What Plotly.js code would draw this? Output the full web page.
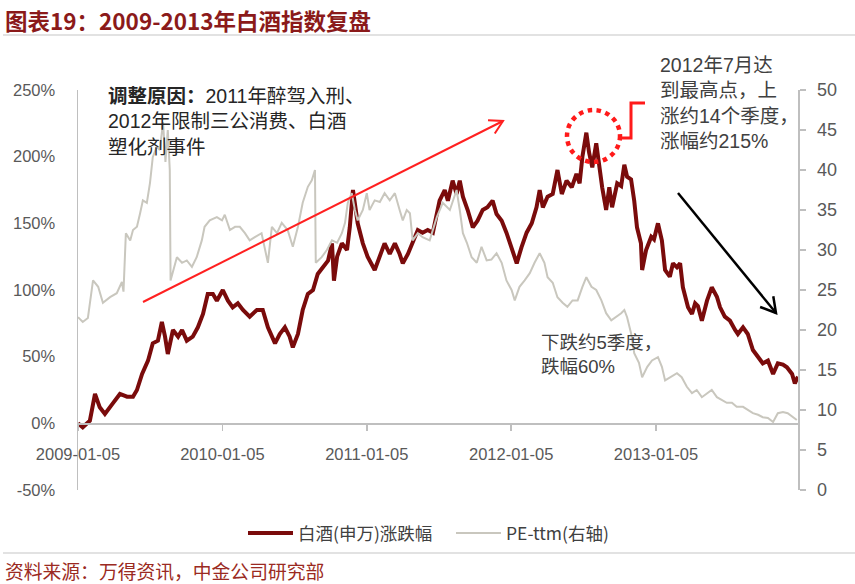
<!DOCTYPE html>
<html>
<head>
<meta charset="utf-8">
<script src="https://cdn.plot.ly/plotly-3.0.1.min.js"></script>
<style>
html,body{margin:0;padding:0;background:#fff;}
#chart{width:855px;height:584px;}
</style>
</head>
<body>
<div id="chart"></div>
<script>
// ---------------- data ----------------
const redDates = [
'2009-01-05','2009-01-17','2009-02-04','2009-02-17','2009-03-01','2009-03-14','2009-04-03','2009-04-21','2009-05-09','2009-05-24','2009-06-03','2009-06-16','2009-07-01','2009-07-13','2009-07-26','2009-08-05','2009-08-13','2009-08-20','2009-09-02','2009-09-15','2009-09-25','2009-10-07','2009-10-22','2009-11-04','2009-11-17','2009-11-29','2009-12-12','2009-12-22',
'2010-01-06','2010-01-19','2010-01-31','2010-02-13','2010-02-26','2010-03-15','2010-04-02','2010-04-17','2010-04-30','2010-05-18','2010-05-30','2010-06-12','2010-06-24','2010-07-02','2010-07-15','2010-07-27','2010-08-09','2010-08-22','2010-09-03','2010-09-16','2010-09-29','2010-10-09','2010-10-14','2010-10-22','2010-11-03','2010-11-16','2010-11-23','2010-12-01','2010-12-06','2010-12-13','2010-12-26',
'2011-01-07','2011-01-25','2011-02-07','2011-02-19','2011-03-04','2011-03-17','2011-03-29','2011-04-06','2011-04-19','2011-05-01','2011-05-14','2011-05-26','2011-06-08','2011-06-21','2011-07-01','2011-07-08','2011-07-21','2011-07-29','2011-08-10','2011-08-20','2011-08-28','2011-09-05','2011-09-17','2011-09-30','2011-10-12','2011-10-25','2011-11-06','2011-11-19','2011-11-29','2011-12-12','2011-12-24',
'2012-01-06','2012-01-19','2012-01-31','2012-02-13','2012-02-26','2012-03-09','2012-03-17','2012-03-25','2012-04-06','2012-04-19','2012-05-01','2012-05-12','2012-05-24','2012-06-06','2012-06-18','2012-06-26','2012-07-03','2012-07-13','2012-07-20','2012-07-28','2012-08-07','2012-08-15','2012-08-22','2012-09-01','2012-09-09','2012-09-16','2012-09-29','2012-10-09','2012-10-17','2012-10-24','2012-11-03','2012-11-11','2012-11-18','2012-11-28','2012-12-01','2012-12-11','2012-12-24','2012-12-31',
'2013-01-10','2013-01-20','2013-01-28','2013-02-09','2013-02-17','2013-02-27','2013-03-07','2013-03-14','2013-03-27','2013-04-06','2013-04-14','2013-04-21','2013-05-01','2013-05-14','2013-05-26','2013-06-08','2013-06-16','2013-06-28','2013-07-11','2013-07-24','2013-07-31','2013-08-13','2013-08-25','2013-09-07','2013-09-20','2013-10-02','2013-10-15','2013-10-28','2013-11-09','2013-11-22','2013-12-02','2013-12-15','2013-12-22','2013-12-30'
];
const redValues = [
0,-3,2,22,12,7,15,22,20,20,25,37,47,60,62,76,65,52,70,65,70,62,65,72,82,97,97,92,
100,92,87,90,85,80,85,85,72,60,67,72,65,57,67,85,97,100,112,117,122,135,107,125,135,130,147,175,165,150,135,
125,115,125,135,127,135,127,120,127,135,145,143,145,143,157,167,175,167,182,172,182,170,160,147,152,160,162,167,157,152,143,
132,120,132,143,150,162,175,162,170,172,190,172,182,177,187,180,200,218,203,192,210,192,177,160,177,162,180,178,194,185,183,167,147,135,115,130,140,138,
150,137,115,110,120,117,120,102,87,82,90,88,77,92,102,95,87,80,77,70,67,72,67,55,50,45,47,37,45,44,42,37,30,35
];

const peDates = [
'2009-01-05','2009-01-17','2009-01-30','2009-02-12','2009-02-25','2009-03-09','2009-03-27','2009-04-13','2009-04-26','2009-04-30','2009-05-06','2009-05-17','2009-05-24','2009-06-03','2009-06-11','2009-06-18','2009-06-28','2009-07-06','2009-07-13','2009-07-23','2009-07-31','2009-08-08','2009-08-14','2009-08-20','2009-08-25','2009-08-27','2009-09-12','2009-09-25','2009-10-07','2009-10-20','2009-11-01','2009-11-14','2009-11-21','2009-12-04','2009-12-22',
'2010-01-04','2010-01-11','2010-01-24','2010-02-06','2010-02-18','2010-03-03','2010-03-15','2010-03-28','2010-04-14','2010-04-30','2010-05-10','2010-05-23','2010-06-04','2010-06-19','2010-07-02','2010-07-15','2010-07-27','2010-08-09','2010-08-19','2010-08-27','2010-08-29','2010-09-13','2010-09-26','2010-10-09','2010-10-22','2010-11-03','2010-11-11','2010-11-18','2010-11-28','2010-12-06','2010-12-13','2010-12-26',
'2011-01-05','2011-01-12','2011-01-25','2011-02-07','2011-02-19','2011-03-04','2011-03-17','2011-03-29','2011-04-06','2011-04-16','2011-04-24','2011-05-01','2011-05-14','2011-05-26','2011-06-13','2011-07-01','2011-07-16','2011-08-03','2011-08-20','2011-08-28','2011-09-05','2011-09-15','2011-09-27','2011-10-10','2011-10-22','2011-11-04','2011-11-16','2011-11-29','2011-12-12','2011-12-24',
'2012-01-06','2012-01-14','2012-01-26','2012-02-08','2012-02-21','2012-03-04','2012-03-17','2012-03-29','2012-04-06','2012-04-19','2012-05-01','2012-05-14','2012-05-26','2012-06-08','2012-06-21','2012-07-03','2012-07-13','2012-07-26','2012-08-07','2012-08-20','2012-09-01','2012-09-14','2012-09-26','2012-10-09','2012-10-17','2012-10-24','2012-11-03','2012-11-11','2012-11-23','2012-12-01','2012-12-14','2012-12-26',
'2013-01-10','2013-01-20','2013-01-28','2013-02-09','2013-02-27','2013-03-11','2013-03-24','2013-04-06','2013-04-18','2013-05-01','2013-05-14','2013-05-26','2013-06-08','2013-06-21','2013-07-03','2013-07-16','2013-07-28','2013-08-13','2013-08-25','2013-09-07','2013-09-20','2013-10-02','2013-10-15','2013-10-28','2013-11-09','2013-11-22','2013-12-04','2013-12-17','2013-12-27'
];
const peValues = [
21.6,21.0,21.5,26.2,25.4,23.4,24.1,24.6,26.0,24.8,32.1,31.2,32.5,32.9,34.6,36.2,35.9,38.4,41.6,42.9,42.5,46.0,41.0,45.0,40.0,26.2,29.1,28.4,28.7,27.9,29.1,31.2,32.9,33.7,34.1,
33.7,34.4,32.5,32.9,32.9,32.1,31.2,31.6,32.1,28.4,32.9,32.1,33.4,32.5,30.4,32.9,35.9,37.9,38.7,40.0,28.4,29.1,30.0,31.2,30.9,32.1,33.4,35.9,37.1,35.0,33.7,35.0,
37.1,35.0,36.2,36.0,37.1,36.2,37.1,35.0,33.7,35.0,34.6,31.2,32.1,31.6,31.2,34.1,35.9,35.0,37.5,35.0,32.1,30.9,29.1,28.4,30.4,28.7,28.8,29.6,28.4,26.2,
25.0,23.7,25.4,26.2,27.1,28.4,29.6,28.4,26.6,25.9,24.1,23.4,22.9,23.7,23.7,25.4,26.6,25.4,25.0,23.7,22.1,21.2,21.6,22.1,22.5,21.6,19.6,17.1,15.9,14.1,15.4,16.2,
16.6,15.4,13.7,14.1,14.6,14.1,12.9,12.1,12.5,11.6,12.1,12.5,11.6,11.2,10.9,10.9,10.4,10.4,10.0,9.6,9.4,9.1,9.0,8.5,9.6,9.75,9.6,9.1,8.75
];

const xTickVals = ['2009-01-05','2010-01-05','2011-01-05','2012-01-05','2013-01-05'];
const xTickText = ['2009-01-05','2010-01-05','2011-01-05','2012-01-05','2013-01-05'];
const yTickVals = [-50,0,50,100,150,200,250];
const yTickText = ['-50%','0%','50%','100%','150%','200%','250%'];
const y2TickVals = [0,5,10,15,20,25,30,35,40,45,50];

const seriesNames = ['白酒(申万)涨跌幅','PE-ttm(右轴)'];
const titleText = '图表19：2009-2013年白酒指数复盘';
const sourceText = '资料来源：万得资讯，中金公司研究部';
const note1 = '<b>调整原因：</b>2011年醉驾入刑、<br>2012年限制三公消费、白酒<br>塑化剂事件';
const note2 = '2012年7月达<br>到最高点，上<br>涨约14个季度，<br>涨幅约215%';
const note3 = '下跌约5季度，<br>跌幅60%';

// ---------------- layout helpers (pixel -> paper) ----------------
const W = 855, H = 584;
const L = 78, R = 798, T = 90, B = 490;
const px = x => (x - L) / (R - L);
const py = y => (B - y) / (B - T);
const FONT = '"Liberation Sans", "Noto Sans CJK SC", sans-serif';
const CJK = '"Noto Sans CJK SC", "Liberation Sans", sans-serif';

function arrowShapes(x0, y0, x1, y1, wing, color, width) {
  const dx = x1 - x0, dy = y1 - y0, len = Math.hypot(dx, dy);
  const ux = dx / len, uy = dy / len;
  const ang = Math.PI / 6;
  const w1x = x1 - wing * (ux * Math.cos(ang) - uy * Math.sin(ang));
  const w1y = y1 - wing * (ux * Math.sin(ang) + uy * Math.cos(ang));
  const w2x = x1 - wing * (ux * Math.cos(-ang) - uy * Math.sin(-ang));
  const w2y = y1 - wing * (ux * Math.sin(-ang) + uy * Math.cos(-ang));
  const P = (x, y) => px(x) + ',' + py(y);
  return [
    {type:'path', xref:'paper', yref:'paper', path:'M' + P(x0,y0) + ' L' + P(x1,y1),
     line:{color:color, width:width}},
    {type:'path', xref:'paper', yref:'paper', path:'M' + P(w1x,w1y) + ' L' + P(x1,y1) + ' L' + P(w2x,w2y),
     line:{color:color, width:width}}
  ];
}

const shapes = [
  {type:'line', xref:'paper', yref:'paper', x0:px(3), x1:px(855), y0:py(35), y1:py(35), line:{color:'#d9d9d9', width:1.5}},
  {type:'line', xref:'paper', yref:'paper', x0:px(3), x1:px(855), y0:py(553), y1:py(553), line:{color:'#d9d9d9', width:1.5}},
  {type:'circle', xref:'paper', yref:'paper', x0:px(567), x1:px(620), y0:py(162), y1:py(110),
   line:{color:'#ff1a1a', width:4.5, dash:'4.5px,4.5px'}},
  {type:'path', xref:'paper', yref:'paper',
   path:'M' + px(618) + ',' + py(138) + ' L' + px(631) + ',' + py(138) + ' L' + px(631) + ',' + py(103) + ' L' + px(645) + ',' + py(103),
   line:{color:'#ff1a1a', width:3}}
].concat(arrowShapes(143, 302, 503, 121, 15, '#ff2020', 2))
 .concat(arrowShapes(678, 193, 776, 313, 17, '#000000', 2.5));

const annotations = [
  {xref:'paper', yref:'paper', x:px(3), y:py(20), xanchor:'left', yanchor:'middle', showarrow:false,
   text:'<b>' + titleText + '</b>', font:{family:CJK, size:22.5, color:'#8b1a1a'}},
  {xref:'paper', yref:'paper', x:px(3), y:py(570), xanchor:'left', yanchor:'middle', showarrow:false,
   text:sourceText, font:{family:CJK, size:18.8, color:'#9b2a22'}},
  {xref:'paper', yref:'paper', x:px(106), y:py(83), xanchor:'left', yanchor:'top', align:'left', showarrow:false,
   text:note1, font:{family:FONT, size:19.5, color:'#262626'}},
  {xref:'paper', yref:'paper', x:px(658), y:py(52), xanchor:'left', yanchor:'top', align:'left', showarrow:false,
   text:note2, font:{family:FONT, size:19.5, color:'#404040'}},
  {xref:'paper', yref:'paper', x:px(539), y:py(330), xanchor:'left', yanchor:'top', align:'left', showarrow:false,
   text:note3, font:{family:FONT, size:18.5, color:'#404040'}}
];

const traces = [
  {x:redDates, y:redValues, name:seriesNames[0], type:'scatter', mode:'lines', yaxis:'y',
   line:{color:'#7a0b0b', width:4}},
  {x:peDates, y:peValues, name:seriesNames[1], type:'scatter', mode:'lines', yaxis:'y2',
   line:{color:'#c9c7be', width:2}}
];

const layout = {
  width:W, height:H,
  margin:{l:L, r:W - R, t:T, b:H - B, pad:0},
  paper_bgcolor:'#ffffff', plot_bgcolor:'#ffffff',
  font:{family:FONT, color:'#595959'},
  showlegend:true,
  legend:{orientation:'h', x:px(243), xanchor:'left', y:py(533), yanchor:'middle',
          itemwidth:45, entrywidth:148, entrywidthmode:'pixels',
          font:{family:CJK, size:17.5, color:'#404040'}, bgcolor:'rgba(0,0,0,0)'},
  xaxis:{type:'date', range:['2009-01-05','2013-12-30'], anchor:'free', position:1/6,
         showgrid:false, zeroline:false, showline:true, linecolor:'#bfbfbf', linewidth:1.5,
         ticks:'outside', ticklen:6, tickcolor:'#bfbfbf', tickwidth:1.5,
         tickvals:xTickVals, ticktext:xTickText, ticklabelstandoff:9,
         tickfont:{family:FONT, size:16.5, color:'#595959'}},
  yaxis:{range:[-50,250], showgrid:false, zeroline:false, showline:true, linecolor:'#bfbfbf', linewidth:1.5,
         ticks:'', tickvals:yTickVals, ticktext:yTickText, ticklabelstandoff:18,
         tickfont:{family:FONT, size:16.5, color:'#595959'}},
  yaxis2:{range:[0,50], overlaying:'y', side:'right', showgrid:false, zeroline:false,
          showline:true, linecolor:'#bfbfbf', linewidth:1.5,
          ticks:'outside', ticklen:6, tickcolor:'#bfbfbf', tickwidth:1.5,
          tickvals:y2TickVals, ticklabelstandoff:8,
          tickfont:{family:FONT, size:18, color:'#595959'}},
  shapes:shapes,
  annotations:annotations
};

Plotly.newPlot('chart', traces, layout, {displayModeBar:false, staticPlot:true});
</script>
</body>
</html>
